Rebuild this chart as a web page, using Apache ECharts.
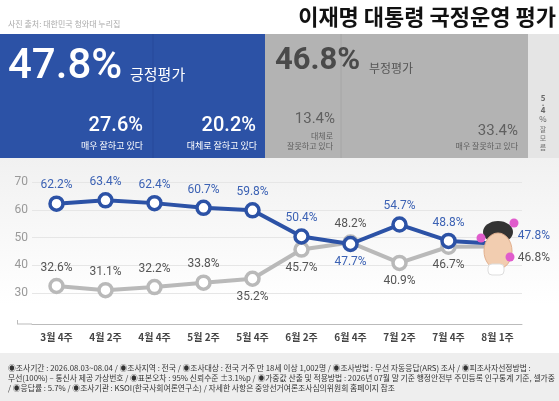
<!DOCTYPE html>
<html>
<head>
<meta charset="utf-8">
<script src="https://cdn.jsdelivr.net/npm/echarts@6/dist/echarts.min.js"></script>
<style>
  html, body { margin: 0; padding: 0; background: #fff; }
  #main { width: 559px; height: 401px; }
</style>
</head>
<body>
<div id="main"></div>
<script>
var weeks = ['3월 4주', '4월 2주', '4월 4주', '5월 2주', '5월 4주', '6월 2주', '6월 4주', '7월 2주', '7월 4주', '8월 1주'];
var positive = [62.2, 63.4, 62.4, 60.7, 59.8, 50.4, 47.7, 54.7, 48.8, 47.8];
var negative = [32.6, 31.1, 32.2, 33.8, 35.2, 45.7, 48.2, 40.9, 46.7, 46.8];
// label side per point: 'top' / 'bottom' / 'right'
var posLabelSide = ['top', 'top', 'top', 'top', 'top', 'top', 'bottom', 'top', 'top', 'right'];
var negLabelSide = ['top', 'top', 'top', 'top', 'bottom', 'bottom', 'top', 'bottom', 'bottom', 'right'];
var yTicks = [20, 30, 40, 50, 60, 70];

var BLUE = '#2c52a6';
var GRAY = '#b9b9b9';
var FONT = '"Noto Sans CJK KR", "Noto Sans", sans-serif';
var NUM = 'Roboto, "Noto Sans", sans-serif';

var myChart = echarts.init(document.getElementById('main'));

function buildData(values, sides, isPos) {
    return values.map(function (v, i) {
        var side = sides[i];
        var label = { position: side };
        if (side === 'right') {
            label.distance = 12;
            label.offset = isPos ? [0, -8] : [0, 12];
        }
        return { value: v, label: label };
    });
}

function txt(x, y, s, size, color, opts) {
    opts = opts || {};
    return {
        type: 'text', x: x, y: y, z: 10,
        style: {
            text: s, fontSize: size, fill: color, fontFamily: opts.font || FONT,
            fontWeight: opts.weight || 'normal',
            align: opts.align || 'left', verticalAlign: opts.va || 'middle'
        }
    };
}

var footer = [
    '◉조사기간 : 2026.08.03~08.04 / ◉조사지역 : 전국 / ◉조사대상 : 전국 거주 만 18세 이상 1,002명 / ◉조사방법 : 무선 자동응답(ARS) 조사 / ◉피조사자선정방법 :',
    '무선(100%) – 통신사 제공 가상번호 / ◉표본오차 : 95% 신뢰수준 ±3.1%p / ◉가중값 산출 및 적용방법 : 2026년 07월 말 기준 행정안전부 주민등록 인구통계 기준, 셀가중',
    '/ ◉응답률 : 5.7% / ◉조사기관 : KSOI(한국사회여론연구소) / 자세한 사항은 중앙선거여론조사심의위원회 홈페이지 참조'
];

var graphics = [
    // plot background
    { type: 'rect', z: -10, shape: { x: 0, y: 158, width: 559, height: 195 },
      style: { fill: new echarts.graphic.LinearGradient(0, 0, 0, 1, [
          { offset: 0, color: '#f1f1f1' }, { offset: 0.75, color: '#ffffff' }, { offset: 1, color: '#ffffff' }]) } },
    // header blocks
    { type: 'rect', shape: { x: 0, y: 34, width: 265, height: 124 }, style: { fill: BLUE } },
    { type: 'rect', shape: { x: 265, y: 34, width: 263, height: 124 }, style: { fill: '#b3b3b3' } },
    { type: 'rect', shape: { x: 528, y: 34, width: 31, height: 124 }, style: { fill: '#e5e5e5' } },
    { type: 'line', shape: { x1: 153, y1: 34, x2: 153, y2: 158 }, style: { stroke: '#26489a', lineWidth: 1 } },
    { type: 'line', shape: { x1: 341, y1: 34, x2: 341, y2: 158 }, style: { stroke: '#a6a6a6', lineWidth: 1 } },
    // footer box
    { type: 'rect', shape: { x: 0, y: 353, width: 559, height: 48 }, style: { fill: '#eeeeee' } },
    // axis stub left of grid
    { type: 'line', shape: { x1: 17, y1: 324, x2: 32, y2: 324 }, style: { stroke: '#bbbbbb', lineWidth: 1 } },
    { type: 'line', shape: { x1: 17.5, y1: 320, x2: 17.5, y2: 324 }, style: { stroke: '#bbbbbb', lineWidth: 1 } },

    txt(8, 24, '사진 출처: 대한민국 청와대 누리집', 8, '#aaaaaa'),
    txt(556, 17, '이재명 대통령 국정운영 평가', 22, '#111111', { align: 'right', weight: 'bold' }),

    txt(8, 67, '47.8%', 42, '#ffffff', { weight: 500, font: NUM }),
    txt(130, 74, '긍정평가', 15, '#ffffff'),
    txt(143, 126, '27.6%', 20, '#ffffff', { align: 'right', weight: 500, font: NUM }),
    txt(143, 146, '매우 잘하고 있다', 9, '#ffffff', { align: 'right' }),
    txt(256, 126, '20.2%', 20, '#ffffff', { align: 'right', weight: 500, font: NUM }),
    txt(257, 146, '대체로 잘하고 있다', 9, '#ffffff', { align: 'right' }),

    txt(275, 61, '46.8%', 31, '#4a4a4a', { weight: 'bold', font: NUM }),
    txt(369, 68, '부정평가', 12, '#555555'),
    txt(335, 119, '13.4%', 15, '#606060', { align: 'right', font: NUM }),
    txt(333, 136, '대체로', 8, '#606060', { align: 'right' }),
    txt(333, 146, '잘못하고 있다', 8, '#606060', { align: 'right' }),
    txt(518, 131, '33.4%', 15, '#606060', { align: 'right', font: NUM }),
    txt(518, 146, '매우 잘못하고 있다', 8, '#606060', { align: 'right' }),

    txt(543, 98, '5', 8, '#666666', { align: 'center', weight: 'bold' }),
    txt(543, 103, '.', 8, '#666666', { align: 'center', weight: 'bold' }),
    txt(543, 110, '4', 8, '#666666', { align: 'center', weight: 'bold' }),
    txt(543, 119, '%', 8, '#666666', { align: 'center' }),
    txt(543, 129, '잘', 7, '#777777', { align: 'center' }),
    txt(543, 138, '모', 7, '#777777', { align: 'center' }),
    txt(543, 147, '름', 7, '#777777', { align: 'center' }),

    txt(8, 368, footer[0], 7.8, '#333333'),
    txt(8, 378, footer[1], 7.8, '#333333'),
    txt(8, 388, footer[2], 7.8, '#333333'),

    // stylised portrait covering the latest point
    { type: 'ellipse', z: 20, shape: { cx: 498, cy: 232, rx: 15, ry: 11 }, style: { fill: '#333333' } },
    { type: 'ellipse', z: 21, shape: { cx: 498, cy: 251, rx: 14, ry: 18 }, style: { fill: '#f2cdb0', stroke: '#e2b08e', lineWidth: 1 } },
    { type: 'rect', z: 22, shape: { x: 488, y: 264, width: 16, height: 11, r: 4 }, style: { fill: '#ffffff', stroke: '#dddddd' } },
    { type: 'circle', z: 23, shape: { cx: 481, cy: 238, r: 4.5 }, style: { fill: '#e05ccc' } },
    { type: 'circle', z: 23, shape: { cx: 514, cy: 223, r: 4.5 }, style: { fill: '#e05ccc' } },
    { type: 'circle', z: 23, shape: { cx: 510, cy: 257, r: 4.5 }, style: { fill: '#e05ccc' } }
];

option = {
    backgroundColor: '#ffffff',
    animation: false,
    textStyle: { fontFamily: FONT },
    grid: { left: 32, right: 37, top: 182, bottom: 80 },
    xAxis: {
        type: 'category',
        data: weeks,
        boundaryGap: true,
        offset: 3,
        axisLine: { lineStyle: { color: '#bbbbbb' } },
        axisTick: { inside: true, length: 4, lineStyle: { color: '#bbbbbb' } },
        axisLabel: { color: '#444444', fontSize: 10, fontWeight: 'bold', margin: 8 }
    },
    yAxis: {
        type: 'value',
        min: yTicks[0],
        max: yTicks[yTicks.length - 1],
        interval: 10,
        axisLine: { show: false },
        axisTick: { show: false },
        axisLabel: {
            color: '#999999', fontSize: 12, margin: 4, fontFamily: NUM,
            formatter: function (v) { return v === yTicks[0] ? '' : v; }
        },
        splitLine: { lineStyle: { color: ['rgba(0,0,0,0)', '#e6e6e6', '#e6e6e6', '#e6e6e6', '#e6e6e6', '#e6e6e6'] } }
    },
    series: [
        {
            name: '부정평가',
            type: 'line',
            data: buildData(negative, negLabelSide, false),
            symbol: 'circle',
            symbolSize: 13,
            lineStyle: { color: GRAY, width: 4 },
            itemStyle: { color: '#ffffff', borderColor: GRAY, borderWidth: 3.5 },
            label: { show: true, color: '#555555', fontSize: 12, fontFamily: NUM, distance: 4, formatter: '{c}%' },
            z: 2
        },
        {
            name: '긍정평가',
            type: 'line',
            data: buildData(positive, posLabelSide, true),
            symbol: 'circle',
            symbolSize: 13,
            lineStyle: { color: BLUE, width: 4 },
            itemStyle: { color: '#ffffff', borderColor: BLUE, borderWidth: 3.5 },
            label: { show: true, color: '#3c62b4', fontSize: 12, fontFamily: NUM, distance: 4, formatter: '{c}%' },
            z: 3
        }
    ],
    graphic: graphics
};

myChart.setOption(option);
</script>
</body>
</html>
